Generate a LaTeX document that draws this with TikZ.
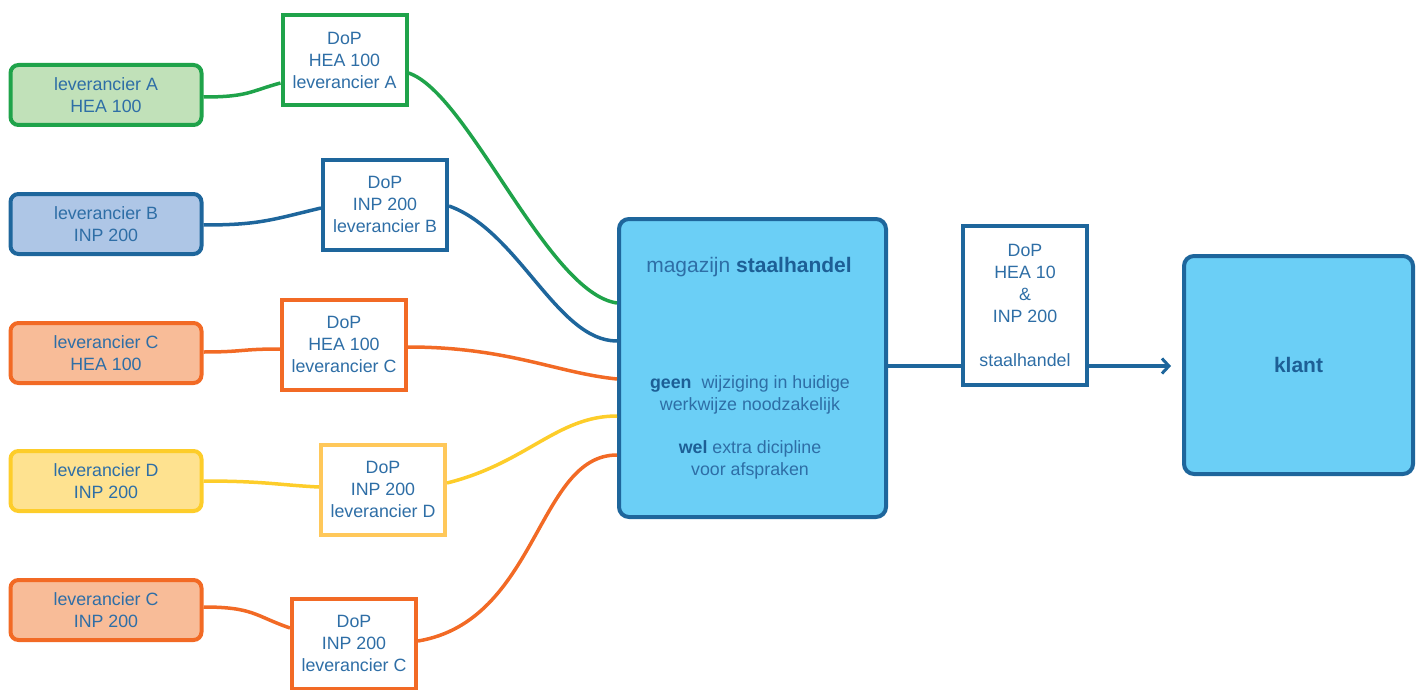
\documentclass[tikz,border=0pt]{standalone}
\usepackage{fontspec}
\setmainfont{Liberation Sans}
\usetikzlibrary{arrows.meta}
\definecolor{tx}{HTML}{2E6EA6}
\definecolor{txb}{HTML}{1D5F96}
\definecolor{gr}{HTML}{1FA34A}
\definecolor{grf}{HTML}{C1E1B9}
\definecolor{bl}{HTML}{1E669C}
\definecolor{blf}{HTML}{AEC6E6}
\definecolor{og}{HTML}{F26A25}
\definecolor{ogf}{HTML}{F8BC98}
\definecolor{ye}{HTML}{FDCD2A}
\definecolor{yef}{HTML}{FEE290}
\definecolor{yeb}{HTML}{FFC85A}
\definecolor{sky}{HTML}{6BCFF6}
\begin{document}
\begin{tikzpicture}[x=1pt,y=-1pt,
  every node/.style={font=\fontsize{17.8}{22}\selectfont, text=tx, align=center, inner sep=0pt},
  supp/.style={rounded corners=8pt, line width=4pt, minimum width=191pt, minimum height=60pt},
  dop/.style={line width=4pt, fill=white, minimum width=124pt, minimum height=90pt},
  big/.style={rounded corners=10pt, line width=4pt, draw=bl, fill=sky},
  title/.style={font=\fontsize{21}{26}\selectfont},
  conn/.style={line width=3.5pt}
]
\useasboundingbox (0,0) rectangle (1421,690);

% suppliers
\node[supp, draw=gr, fill=grf] (sA) at (106,95) {leverancier A\\HEA 100};
\node[supp, draw=bl, fill=blf] (sB) at (106,224) {leverancier B\\INP 200};
\node[supp, draw=og, fill=ogf] (sC) at (106,353) {leverancier C\\HEA 100};
\node[supp, draw=ye, fill=yef] (sD) at (106,481) {leverancier D\\INP 200};
\node[supp, draw=og, fill=ogf] (sE) at (106,610) {leverancier C\\INP 200};

% DoP boxes
\node[dop, draw=gr] (dA) at (344.5,60.5) {DoP\\HEA 100\\leverancier A};
\node[dop, draw=bl] (dB) at (385,204.5) {DoP\\INP 200\\leverancier B};
\node[dop, draw=og] (dC) at (344,344.5) {DoP\\HEA 100\\leverancier C};
\node[dop, draw=yeb] (dD) at (383,489.5) {DoP\\INP 200\\leverancier D};
\node[dop, draw=og] (dE) at (354,643.5) {DoP\\INP 200\\leverancier C};

% magazijn
\node[big, minimum width=267pt, minimum height=298pt] (mag) at (752.5,368) {};
\node[title] (magt) at (749,267) {magazijn \textbf{\color{txb}staalhandel}};
\node (geen) at (750,394.5) {\textbf{\color{txb}geen}\ \ wijziging in huidige\\werkwijze noodzakelijk};
\node (wel) at (750,459.5) {\textbf{\color{txb}wel} extra dicipline\\voor afspraken};

% DoP staalhandel
\node[dop, draw=bl, minimum height=159pt] (dS) at (1025,305.5) {DoP\\HEA 10\\\&\\INP 200\\[22pt]staalhandel};

% klant
\node[big, minimum width=229pt, minimum height=218pt, title] (kl) at (1298.5,365) {\textbf{\color{txb}klant}};

% connectors supplier -> DoP
\draw[conn, draw=gr] ([yshift=-2pt]sA.east) .. controls +(45,0) and +(-30,8) .. ([yshift=-22.5pt]dA.west);
\draw[conn, draw=bl] ([yshift=-1pt]sB.east) .. controls +(55,0) and +(-50,12) .. ([yshift=-3.5pt]dB.west);
\draw[conn, draw=og] ([yshift=1pt]sC.east) .. controls +(40,0) and +(-40,0) .. ([yshift=-4.5pt]dC.west);
\draw[conn, draw=ye] (sD.east) .. controls +(60,0) and +(-40,-2) .. ([yshift=2.5pt]dD.west);
\draw[conn, draw=og] ([yshift=3pt]sE.east) .. controls +(50,0) and +(-35,-12) .. ([yshift=15.5pt]dE.west);

% connectors DoP -> magazijn
\draw[conn, draw=gr] ([yshift=-12.5pt]dA.east) .. controls +(60,20) and +(-70,-10) .. ([yshift=65pt]mag.west);
\draw[conn, draw=bl] ([yshift=-1.5pt]dB.east) .. controls +(70,25) and +(-60,0) .. ([yshift=27pt]mag.west);
\draw[conn, draw=og] ([yshift=-2.5pt]dC.east) .. controls +(100,0) and +(-60,-6) .. ([yshift=-11pt]mag.west);
\draw[conn, draw=ye] ([yshift=6.5pt]dD.east) .. controls +(80,-20) and +(-60,0) .. ([yshift=-48pt]mag.west);
\draw[conn, draw=og] ([yshift=2.5pt]dE.east) .. controls +(120,-20) and +(-80,0) .. ([yshift=-87pt]mag.west);

% output
\coordinate (tip) at (1171,366);
\draw[conn, draw=bl] (mag.east |- tip) -- (dS.west |- tip);
\draw[conn, draw=bl, -{Straight Barb[length=7pt,width=15pt,line width=3pt]}] (dS.east |- tip) -- (tip);
\end{tikzpicture}
\end{document}
